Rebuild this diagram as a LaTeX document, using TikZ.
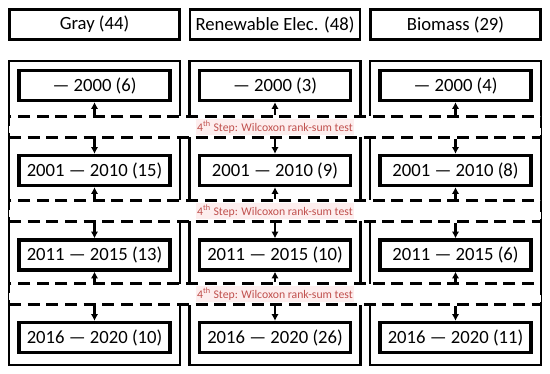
\documentclass[tikz,border=0pt]{standalone}
\usepackage{fontspec}
\setmainfont{Carlito}
\usepackage{tikz}
\usetikzlibrary{arrows.meta,positioning}
\definecolor{steptext}{RGB}{192,80,77}
\definecolor{stepfill}{RGB}{253,238,238}

\begin{document}
\begin{tikzpicture}[x=0.75pt,y=-0.75pt,
  every node/.style={font=\fontsize{14}{16}\selectfont},
  hdr/.style={draw,line width=2.2pt,minimum width=127.5pt,minimum height=22.5pt,inner sep=0pt},
  col/.style={draw,line width=1.6pt,minimum width=128.25pt,minimum height=228pt,inner sep=0pt},
  band/.style={draw,dash pattern=on 9pt off 5pt,fill=white,line width=2.2pt,minimum width=399pt,minimum height=15.75pt,inner sep=0pt},
  yr/.style={draw,line width=2.5pt,minimum width=113.25pt,minimum height=22.5pt,inner sep=0pt},
  lbl/.style={fill=stepfill,text=steptext,inner sep=1pt,font=\fontsize{8.8}{10}\selectfont},
  ar/.style={-{Latex[length=5pt,width=5.5pt]},line width=1.6pt}]
\useasboundingbox (0,0) rectangle (550,374);
% category headers and column frames
\foreach \n/\x/\t in {g/94.5/Gray (44),r/275/Renewable Elec. (48),b/455.5/Biomass (29)} {
  \node[hdr] (h\n) at (\x,24.5) {\t};
  \node[col] (c\n) at (\x,213) {};
}
% test bands
\foreach \i/\y in {1/127,2/211,3/294} \node[band] (s\i) at (275,\y) {};
% period boxes
\foreach \n/\x/\a/\b/\c/\d in {g/94.5/6/15/13/10,r/275/3/9/10/26,b/455.5/4/8/6/11} {
  \node[yr] (y\n1) at (\x,85.5) {--- 2000 (\a)};
  \node[yr] (y\n2) at (\x,170.5) {2001 --- 2010 (\b)};
  \node[yr] (y\n3) at (\x,255) {2011 --- 2015 (\c)};
  \node[yr] (y\n4) at (\x,337.5) {2016 --- 2020 (\d)};
}
\foreach \n in {g,r,b}
  \foreach \i/\j in {1/2,2/3,3/4} {
    \draw[ar] (s\i.north -| y\n\i) -- (y\n\i.south);
    \draw[ar] (s\i.south -| y\n\j) -- (y\n\j.north);
  }
\foreach \i in {1,2,3} \node[lbl] (l\i) at (s\i) {4\textsuperscript{th} Step: Wilcoxon rank-sum test};
\end{tikzpicture}
\end{document}
